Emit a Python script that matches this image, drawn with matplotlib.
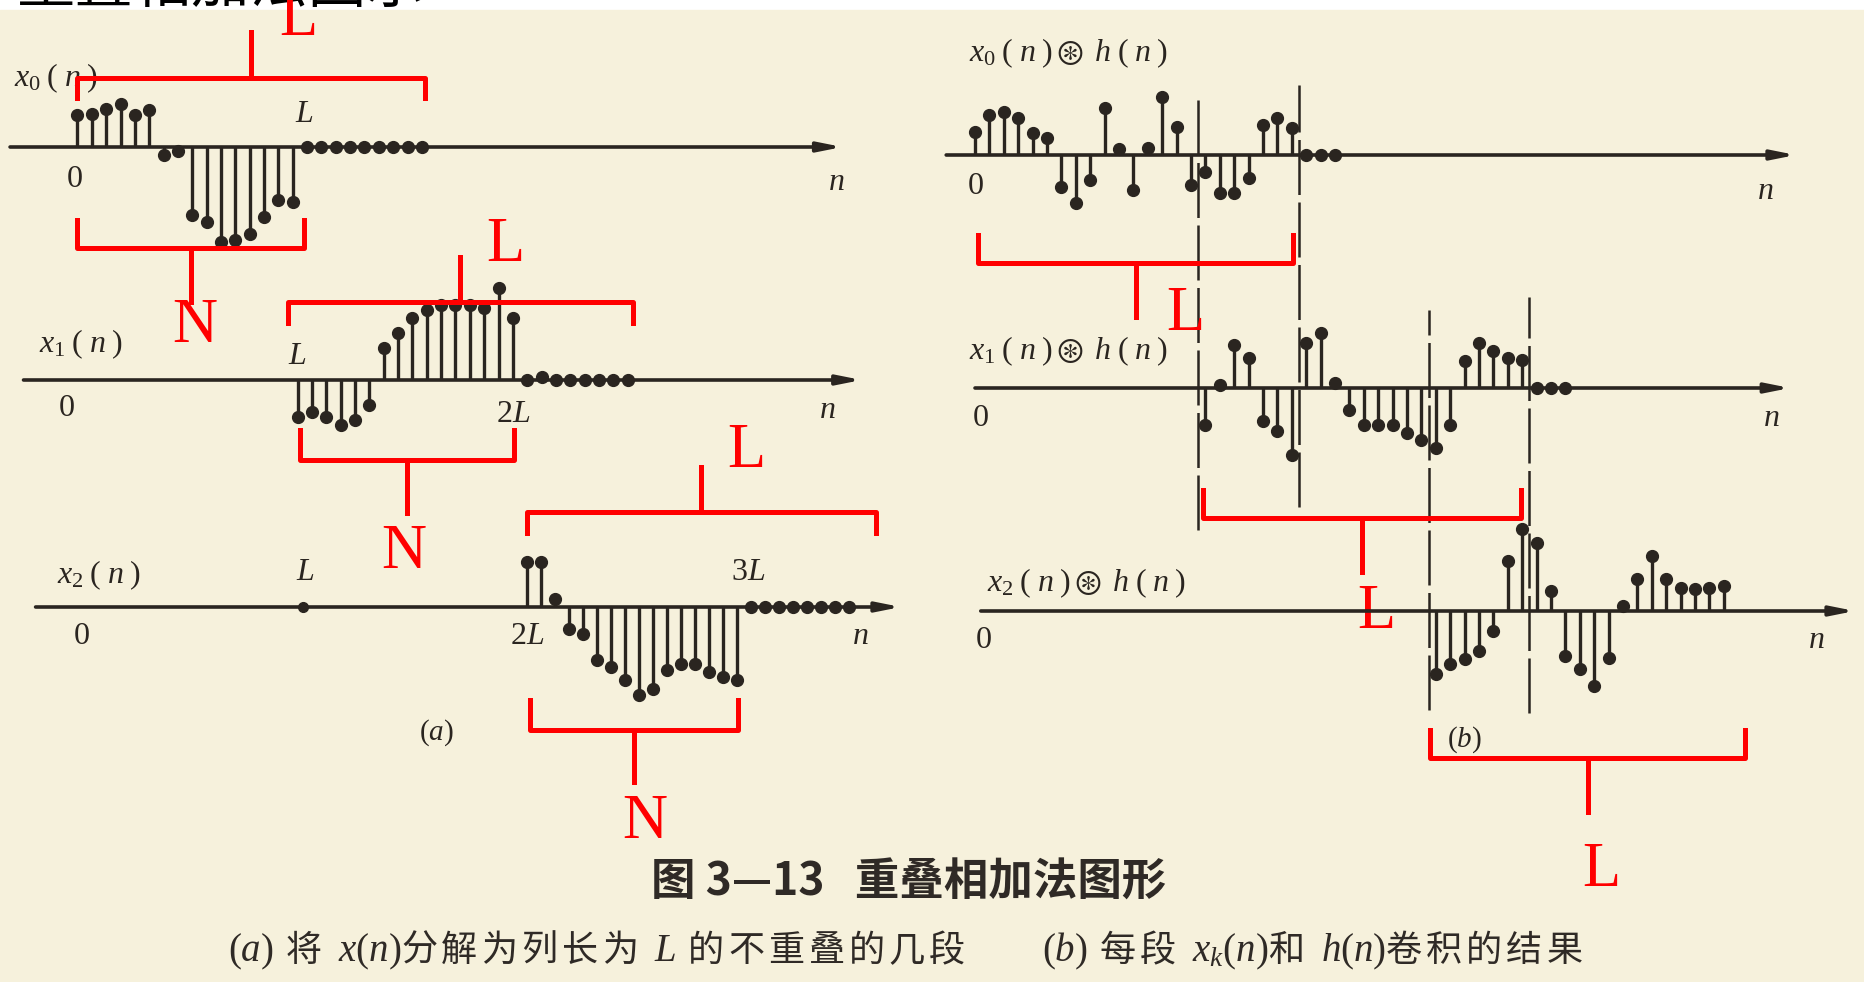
import matplotlib
matplotlib.use('Agg')
import matplotlib.pyplot as plt
import numpy as np

W, H = 1865, 982
PAPER = '#f6f1dc'
INK = '#2a2520'
RED = '#ff0000'
CJK = ['Noto Sans CJK SC', 'DejaVu Sans']

L = 16   # block length (samples)
M = 8    # filter length, output block = L + M - 1

# (a) input blocks x_k(n)
x0_n = np.arange(0, 25)
x0_v = [32, 33, 38, 43, 32, 37, -8, -4, -68, -75, -95, -93, -87, -70, -53, -55,
        0, 0, 0, 0, 0, 0, 0, 0, 0]
x1_n = np.arange(16, 40)
x1_v = [-37, -32, -37, -45, -40, -25, 32, 47, 62, 70, 75, 75, 75, 72, 92, 62,
        0, 3, 0, 0, 0, 0, 0, 0]
x2_n = np.arange(32, 56)
x2_v = [45, 45, 8, -22, -27, -53, -60, -73, -88, -82, -63, -57, -57, -65, -70, -73,
        0, 0, 0, 0, 0, 0, 0, 0]

# (b) block convolutions y_k(n) = x_k(n) (*) h(n)
y0_n = np.arange(0, 26)
y0_v = [23, 40, 43, 37, 22, 17, -32, -48, -25, 47, 6, -35, 7, 58, 28, -30,
        -17, -38, -38, -23, 30, 37, 27, 0, 0, 0]
y1_n = np.arange(16, 42)
y1_v = [-37, 3, 43, 30, -33, -43, -67, 45, 55, 5, -22, -37, -37, -37, -45, -52,
        -60, -37, 27, 45, 37, 30, 28, 0, 0, 0]
y2_n = np.arange(32, 53)
y2_v = [-63, -53, -48, -40, -20, 50, 82, 68, 20, -45, -58, -75, -47, 5, 32, 55,
        32, 23, 22, 23, 25]

# block borders in (b)
borders = [L - 0.5, L + M - 1.5, 2 * L - 0.5, 2 * L + M - 1.5]

caption2 = [('$(a)$', 1), (' 将 ', 0), ('$x(n)$', 1), ('分解为列长为 ', 0), ('$L$', 1),
            (' 的不重叠的几段      ', 0), ('$(b)$', 1), (' 每段 ', 0), ('$x_k(n)$', 1),
            ('和 ', 0), ('$h(n)$', 1), ('卷积的结果', 0)]

plt.rcParams['mathtext.fontset'] = 'custom'
plt.rcParams['mathtext.rm'] = 'Liberation Serif'
plt.rcParams['mathtext.it'] = 'Liberation Serif:italic'
plt.rcParams['mathtext.fallback'] = 'stix'

fig = plt.figure(figsize=(W / 100, H / 100), dpi=100)
fig.patch.set_facecolor('white')

# background: cut-off heading above the scanned page
bg = fig.add_axes([0, 0, 1, 1])
bg.set_xlim(0, W)
bg.set_ylim(H, 0)
bg.axis('off')
bg.text(17, 16, '重叠相加法图示', fontsize=42, color='black', va='bottom', ha='left',
        family=CJK, zorder=1)
bg.add_patch(plt.Rectangle((0, 10), W, H, color=PAPER, zorder=2))
bg.text(909, 883, '图 3—13   重叠相加法图形', fontsize=32, color='#2f2a26',
        ha='center', va='center', family=CJK, fontweight='bold', zorder=3)

# second caption line, laid out piece by piece (italic latin inside chinese)
renderer = fig.canvas.get_renderer()
pieces = []
x = 0
for s, is_math in caption2:
    chunks = [s] if is_math else list(s)
    for c in chunks:
        t = bg.text(x, 961, c, fontsize=28 if is_math else 26, color='#2f2a26',
                    ha='left', va='baseline', family=CJK, zorder=3)
        x += t.get_window_extent(renderer).width + (0 if is_math else 4)
        pieces.append(t)
shift = 907 - x / 2
for t in pieces:
    t.set_x(t.get_position()[0] + shift)


def panel(n0_px, dx, y_px):
    ax = fig.add_axes([0, 0, 1, 1])
    ax.set_xlim(-n0_px / dx, (W - n0_px) / dx)
    ax.set_ylim(-(H - y_px), y_px)
    ax.axis('off')
    return ax


def draw(ax, n, v, n_from, n_to):
    ax.annotate('', xy=(n_to, 0), xytext=(n_from, 0),
                arrowprops=dict(arrowstyle='-|>,head_length=1.4,head_width=0.28',
                                color=INK, lw=2.6, shrinkA=0, shrinkB=0))
    ml, sl, bl = ax.stem(n, v, linefmt='-', markerfmt='o', basefmt=' ')
    plt.setp(sl, color=INK, linewidth=2.4)
    plt.setp(ml, color=INK, markersize=8.5)


def lab(ax, x, y, s, size=23, ha='center'):
    ax.text(x, y, s, fontsize=size, color=INK, ha=ha, va='center')


def bracket(ax, a, b, y, end_y, tick_y, txt, tx, ty):
    ax.plot([a, a, b, b], [end_y, y, y, end_y], color=RED, lw=3.6,
            solid_joinstyle='round', zorder=5)
    mid = (a + b) / 2
    ax.plot([mid, mid], [y, tick_y], color=RED, lw=3.6, zorder=5)
    ax.text(tx, ty, txt, fontsize=45, color=RED, family='Liberation Serif',
            ha='center', va='center', zorder=6)


conv = r'$x_{%d}\;(\;n\;)\circledast\; h\;(\;n\;)$'

# ---- (a) ----
a0 = panel(77.5, 14.35, 147)
draw(a0, x0_n, x0_v, -4.7, 53.3)
lab(a0, -4.4, 69, r'$x_0\;(\;n\;)$', ha='left')
lab(a0, -0.25, -31, '$0$')
lab(a0, L - 0.2, 34, '$L$')
lab(a0, 52.9, -34, '$n$')
bracket(a0, 0, 24.2, 69, 49, 115, 'L', 15.4, 127)
bracket(a0, 0, 15.8, -101, -73, -155, 'N', 8.2, -180)

a1 = panel(68, 14.35, 380)
draw(a1, x1_n, x1_v, -3.1, 55.3)
lab(a1, -2.0, 36, r'$x_1\;(\;n\;)$', ha='left')
lab(a1, -0.1, -28, '$0$')
lab(a1, L, 25, '$L$')
lab(a1, 2 * L - 1, -33, '$2L$')
lab(a1, 52.9, -30, '$n$')
bracket(a1, 15.3, 39.4, 78, 57, 123, 'L', 30.5, 134)
bracket(a1, 16.2, 31.1, -80, -50, -133, 'N', 23.4, -173)

a2 = panel(79, 14.0, 607)
draw(a2, x2_n, x2_v, -3.1, 58.7)
a2.plot([L], [0], 'o', color=INK, markersize=7)
lab(a2, -1.6, 32, r'$x_2\;(\;n\;)$', ha='left')
lab(a2, 0.2, -28, '$0$')
lab(a2, L + 0.2, 35, '$L$')
lab(a2, 2 * L, -28, '$2L$')
lab(a2, 3 * L - 0.2, 35, '$3L$')
lab(a2, 55.8, -28, '$n$')
lab(a2, 25.5, -126, r'$(a)$', size=21)
bracket(a2, 32, 56.9, 95, 74, 140, 'L', 47.7, 155)
bracket(a2, 32.2, 47.1, -123, -93, -175, 'N', 40.4, -216)

# ---- (b) ----
b0 = panel(975, 14.4, 155)
draw(b0, y0_n, y0_v, -2.0, 57.0)
lab(b0, -0.4, 102, conv % 0, ha='left')
lab(b0, 0, -30, '$0$')
lab(b0, 54.9, -35, '$n$')
b0.vlines(borders[:2], [-375, -352], [62, 70], color=INK, lw=1.8,
          linestyles=[(0, (22, 3))])
b0.vlines(borders[2:], [-555, -558], [-155, -142], color=INK, lw=1.8,
          linestyles=[(0, (22, 3))])
bracket(b0, 0.2, 22.1, -108, -80, -162, 'L', 14.6, -160)

b1 = panel(975, 14.4, 388)
draw(b1, y1_n, y1_v, 0, 56.6)
lab(b1, -0.4, 37, conv % 1, ha='left')
lab(b1, 0.4, -30, '$0$')
lab(b1, 55.3, -30, '$n$')
bracket(b1, 15.8, 37.9, -130, -102, -184, 'L', 27.9, -225)

b2 = panel(975, 14.4, 611)
draw(b2, y2_n, y2_v, 0.4, 61.1)
lab(b2, 0.8, 28, conv % 2, ha='left')
lab(b2, 0.6, -29, '$0$')
lab(b2, 58.4, -29, '$n$')
lab(b2, 34, -129, r'$(b)$', size=21)
bracket(b2, 31.6, 53.5, -147, -119, -201, 'L', 43.5, -260)

fig.savefig('out.png', dpi=100, facecolor=fig.get_facecolor())
